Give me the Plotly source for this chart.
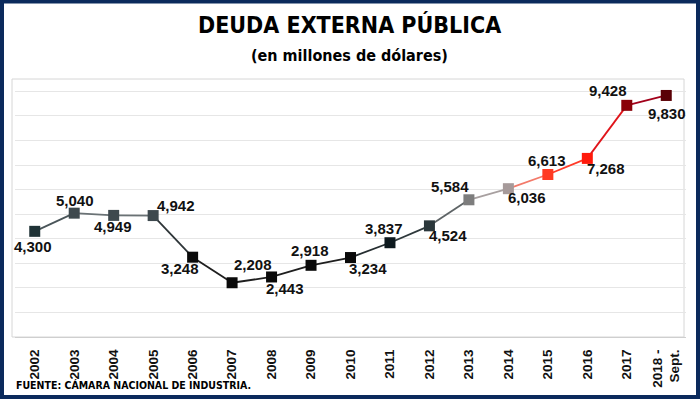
import plotly.graph_objects as go

years = ["2002", "2003", "2004", "2005", "2006", "2007", "2008", "2009", "2010",
         "2011", "2012", "2013", "2014", "2015", "2016", "2017", "2018 -<br>Sept."]
deuda = [4300, 5040, 4949, 4942, 3248, 2208, 2443, 2918, 3234,
         3837, 4524, 5584, 6036, 6613, 7268, 9428, 9830]
marker_colors = ["#1f3236", "#3e494e", "#3e494e", "#3e494e", "#0a0a0a", "#0a0a0a",
                 "#0a0a0a", "#0a0a0a", "#0a0a0a", "#0e1a1f", "#2b373b", "#7d7d7d",
                 "#a69a9a", "#ff3a22", "#ff1a0c", "#8a0008", "#5a0006"]
segment_colors = ["#4a5559", "#6a7275", "#6a7275", "#2e3538", "#1e1e1e", "#1e1e1e",
                  "#1e1e1e", "#1e1e1e", "#252d30", "#2e383b", "#5e6466", "#a8a0a0",
                  "#f37a6a", "#ff3a28", "#e0141a", "#a2001a"]
label_dx = [-2, 1, -1, 23, -13, 21, 13, -1, 17, -6, 19, -19, 19, -1, 19, -19, 1]
label_dy = [15, -13, 11, -10, 11, -18, 12, -15, 11, -14, 10, -13, 9, -14, 10, -15, 18]

W, H = 700, 399
ML, MR, MT, MB = 15, 14, 79, 62
PW, PH = W - ML - MR, H - MT - MB

def px(x):
    return (x - ML) / PW

def py(y):
    return (H - MB - y) / PH

fig = go.Figure()

for i in range(len(years) - 1):
    fig.add_trace(go.Scatter(
        x=[years[i], years[i + 1]], y=[deuda[i], deuda[i + 1]],
        mode="lines", line=dict(color=segment_colors[i], width=1.8),
        hoverinfo="skip", showlegend=False))

fig.add_trace(go.Scatter(
    x=years, y=deuda, mode="markers",
    marker=dict(symbol="square", size=11, color=marker_colors, line=dict(width=0)),
    showlegend=False))

for i, v in enumerate(deuda):
    fig.add_annotation(x=i, y=v, text=f"{v:,}", showarrow=False,
                       xshift=label_dx[i], yshift=-label_dy[i],
                       font=dict(family="Liberation Sans, Arial, sans-serif", size=15,
                                 color="#111111", weight="bold"))

cond = "Liberation Sans Narrow, DejaVu Sans Condensed, Arial Narrow, sans-serif"

fig.add_annotation(x=px(349), y=py(24), xref="paper", yref="paper",
                   xanchor="center", yanchor="middle",
                   text="<b>DEUDA EXTERNA PÚBLICA</b>", showarrow=False,
                   font=dict(family=cond, size=23, color="#000000"))
fig.add_annotation(x=px(349), y=py(55), xref="paper", yref="paper",
                   xanchor="center", yanchor="middle",
                   text="<b>(en millones de dólares)</b>", showarrow=False,
                   font=dict(family=cond, size=16, color="#000000"))
fig.add_annotation(x=px(14), y=py(385), xref="paper", yref="paper",
                   xanchor="left", yanchor="middle",
                   text="<b>FUENTE: CÁMARA NACIONAL DE INDUSTRIA.</b>", showarrow=False,
                   font=dict(family=cond, size=10.5, color="#000000"))

# outer navy frame
fig.add_shape(type="rect", xref="paper", yref="paper",
              x0=px(2), x1=px(698), y0=py(397), y1=py(1.5),
              line=dict(color="#0b2a5c", width=4), fillcolor="rgba(0,0,0,0)", layer="above")
# plot area light frame
fig.add_shape(type="rect", xref="paper", yref="paper",
              x0=px(12), x1=px(684), y0=0, y1=1,
              line=dict(color="#d6d6d6", width=1), fillcolor="rgba(0,0,0,0)", layer="below")

fig.update_layout(
    width=W, height=H,
    margin=dict(l=ML, r=MR, t=MT, b=MB),
    paper_bgcolor="#ffffff", plot_bgcolor="#ffffff",
    showlegend=False,
    xaxis=dict(type="category", range=[-0.5, len(years) - 0.5], tickangle=-90,
               showgrid=False, showline=True, linecolor="#cfcfcf", linewidth=1,
               ticks="", ticklabelstandoff=6, automargin=False,
               tickfont=dict(family="Liberation Sans, Arial, sans-serif", size=13.5,
                             color="#111111", weight="bold")),
    yaxis=dict(range=[0, 10500], dtick=1000, showticklabels=False, showgrid=True,
               gridcolor="#e6e6e6", gridwidth=1, zeroline=False, showline=False,
               automargin=False),
)

fig.write_html("out.html", config={"displayModeBar": False},
               post_script="document.body.style.margin='0';document.body.style.overflow='hidden';")
